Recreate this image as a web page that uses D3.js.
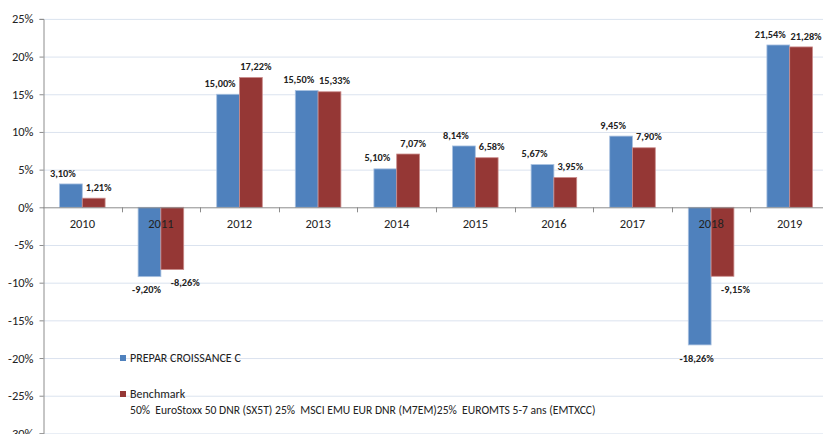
<!DOCTYPE html>
<html>
<head>
<meta charset="utf-8">
<script src="https://cdn.jsdelivr.net/npm/d3@7"></script>
<style>
  body { margin: 0; background: #fff; }
  text { font-family: Carlito, Calibri, Lato, sans-serif; fill: #222; }
</style>
</head>
<body>
<div id="container"></div>
<script>
let years = ["2010","2011","2012","2013","2014","2015","2016","2017","2018","2019"];
let fundValues = [3.10, -9.20, 15.00, 15.50, 5.10, 8.14, 5.67, 9.45, -18.26, 21.54];
let benchValues = [1.21, -8.26, 17.22, 15.33, 7.07, 6.58, 3.95, 7.90, -9.15, 21.28];
let seriesNames = ["PREPAR CROISSANCE C", "Benchmark"];
let benchNote = "50%  EuroStoxx 50 DNR (SX5T) 25%  MSCI EMU EUR DNR (M7EM)25%  EUROMTS 5-7 ans (EMTXCC)";
let yTicks = [-30, -25, -20, -15, -10, -5, 0, 5, 10, 15, 20, 25];
let colors = ["#4f81bd", "#953735"];

let w = 823;
let h = 434;

let viz = d3.select("#container")
  .append("svg")
    .attr("width", w)
    .attr("height", h)
;

let xScale = d3.scaleBand().domain(years).range([43, 829]);
let bw = xScale.bandwidth();
let x1 = d3.scaleBand().domain([0, 1]).range([bw * 0.21, bw * 0.79]);
let yScale = d3.scaleLinear().domain([-30, 25]).range([433.4, 18.9]);

// gridlines
viz.append("g").selectAll("line").data(yTicks.filter(t => t != 0)).enter()
  .append("line")
    .attr("x1", 43).attr("x2", w)
    .attr("y1", d => yScale(d) + 0.5).attr("y2", d => yScale(d) + 0.5)
    .attr("stroke", "#dbe3ef")
    .attr("stroke-width", 1)
;

// y axis
let yAxisGroup = viz.append("g").attr("transform", "translate(43.5,0)");
yAxisGroup.call(d3.axisLeft(yScale).tickValues(yTicks).tickSize(4).tickFormat(d => d + "%"));
yAxisGroup.select(".domain").attr("stroke", "#8c8c8c");
yAxisGroup.selectAll(".tick line").attr("stroke", "#8c8c8c");
yAxisGroup.selectAll(".tick text")
  .attr("x", -10)
  .style("font-size", "12.5px")
  .style("font-family", "Carlito, Calibri, Lato, sans-serif")
  .attr("fill", "#333");

// bars
let rows = years.map((y, i) => ({year: y, vals: [fundValues[i], benchValues[i]]}));
let groups = viz.append("g").selectAll("g").data(rows).enter()
  .append("g")
    .attr("transform", d => "translate(" + xScale(d.year) + ",0)");

groups.selectAll("rect").data(d => d.vals.map((v, k) => ({v: v, k: k}))).enter()
  .append("rect")
    .attr("x", d => x1(d.k))
    .attr("width", x1.bandwidth())
    .attr("y", d => yScale(Math.max(0, d.v)))
    .attr("height", d => Math.abs(yScale(d.v) - yScale(0)))
    .attr("fill", d => colors[d.k])
    .attr("stroke", d => d.k == 0 ? "#a9c1e0" : "#c98a89")
    .attr("stroke-width", 0.8)
;

// zero axis line + category ticks
viz.append("line")
  .attr("x1", 43).attr("x2", w)
  .attr("y1", yScale(0) + 0.5).attr("y2", yScale(0) + 0.5)
  .attr("stroke", "#8c8c8c");
viz.append("g").selectAll("line").data(years.slice(1).concat(["end"])).enter()
  .append("line")
    .attr("x1", (d, i) => Math.round(43 + bw * (i + 1)) + 0.5)
    .attr("x2", (d, i) => Math.round(43 + bw * (i + 1)) + 0.5)
    .attr("y1", yScale(0)).attr("y2", yScale(0) + 5)
    .attr("stroke", "#8c8c8c");

// category labels
viz.append("g").selectAll("text").data(years).enter()
  .append("text")
    .attr("x", d => xScale(d) + bw / 2)
    .attr("y", yScale(0) + 21)
    .attr("text-anchor", "middle")
    .style("font-size", "12.5px")
    .text(d => d);

// data labels
let fmt = v => v.toFixed(2).replace(".", ",") + "%";
groups.selectAll(".lbl").data(d => d.vals.map((v, k) => ({v: v, k: k}))).enter()
  .append("text")
    .attr("class", "lbl")
    .attr("x", d => {
      let cx = x1(d.k) + x1.bandwidth() / 2;
      if (d.v >= 0) return cx + (d.k == 0 ? -8 : 5);
      return cx + (d.k == 0 ? -3 : 13);
    })
    .attr("y", d => d.v >= 0 ? yScale(d.v) - 11 : yScale(d.v) + 13)
    .attr("dy", "0.35em")
    .attr("text-anchor", "middle")
    .style("font-size", "10.3px")
    .style("font-weight", "bold")
    .text(d => fmt(d.v));

// legend
let legend = viz.append("g");
legend.append("rect").attr("x", 120).attr("y", 355).attr("width", 6).attr("height", 6).attr("fill", colors[0]);
legend.append("text").attr("x", 130).attr("y", 358).attr("dy", "0.35em").style("font-size", "12px").text(seriesNames[0]);
legend.append("rect").attr("x", 120).attr("y", 391).attr("width", 6).attr("height", 6).attr("fill", colors[1]);
legend.append("text").attr("x", 130).attr("y", 394).attr("dy", "0.35em").style("font-size", "12px").text(seriesNames[1]);
legend.append("text").attr("x", 130).attr("y", 410).attr("dy", "0.35em")
  .attr("xml:space", "preserve")
  .style("white-space", "pre")
  .style("font-size", "11.6px")
  .text(benchNote);
</script>
</body>
</html>
